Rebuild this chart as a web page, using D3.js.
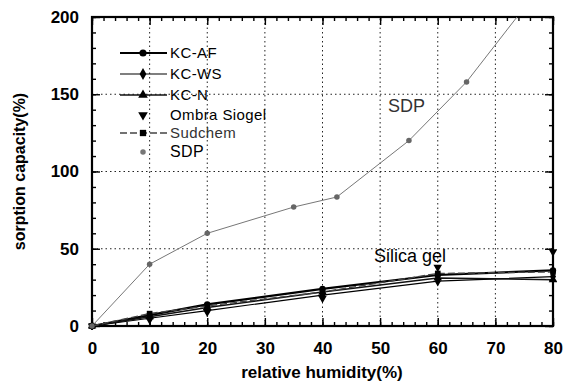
<!DOCTYPE html>
<html>
<head>
<meta charset="utf-8">
<script src="https://cdn.jsdelivr.net/npm/d3@7"></script>
<style>
  body { margin: 0; background: #fff; }
  svg { display: block; font-family: "Liberation Sans", Arial, sans-serif; }
</style>
</head>
<body>
<div id="chart"></div>
<script>
// relative humidity (%) sample points
const rhSilica = [0, 10, 20, 40, 60, 80];
const kcAF = [0, 7, 14, 24, 33, 36];
const kcWS = [0, 5, 10, 20, 29, 32];
const kcN = [0, 6, 12, 22, 31, 30];
const ombra = [0, 4, 9, 18, 38, 48];
const sudchem = [0, 8, 13, 22, 34, 35];

const rhSDP = [0, 10, 20, 35, 42.5, 55, 65, 75];
const sdp = [0, 40, 60, 77, 83.5, 120, 158, 206];

const xTicks = [0, 10, 20, 30, 40, 50, 60, 70, 80];
const yTicks = [0, 50, 100, 150, 200];

const width = 575, height = 386;
const margin = { top: 17, right: 22, bottom: 60, left: 92 };

const svg = d3.select("#chart").append("svg")
  .attr("width", width)
  .attr("height", height);

const x = d3.scaleLinear().domain([0, 80]).range([margin.left, width - margin.right]);
const y = d3.scaleLinear().domain([0, 200]).range([height - margin.bottom, margin.top]);

// dotted grid
svg.append("g")
  .selectAll("line")
  .data(xTicks.slice(1, -1))
  .join("line")
  .attr("x1", d => x(d)).attr("x2", d => x(d))
  .attr("y1", y(0)).attr("y2", y(200))
  .attr("stroke", "#222").attr("stroke-width", 1)
  .attr("stroke-dasharray", "1.5,3");
svg.append("g")
  .selectAll("line")
  .data(yTicks.slice(1, -1))
  .join("line")
  .attr("x1", x(0)).attr("x2", x(80))
  .attr("y1", d => y(d)).attr("y2", d => y(d))
  .attr("stroke", "#222").attr("stroke-width", 1)
  .attr("stroke-dasharray", "1.5,3");

// axes with inward ticks
const xMinor = d3.range(0, 81, 2);
const yMinor = d3.range(0, 201, 10);

function tickAxis(axis, scale, minor, pos) {
  const g = svg.append("g").attr("transform", pos);
  g.call(axis(scale).tickValues(minor).tickSize(-4).tickFormat(""));
  g.select(".domain").remove();
  g.selectAll("line").attr("stroke", "#000").attr("stroke-width", 1.2);
  return g;
}
tickAxis(d3.axisBottom, x, xMinor, `translate(0,${y(0)})`);
tickAxis(d3.axisTop, x, xMinor, `translate(0,${y(200)})`);
tickAxis(d3.axisLeft, y, yMinor, `translate(${x(0)},0)`);
tickAxis(d3.axisRight, y, yMinor, `translate(${x(80)},0)`);

const gx = svg.append("g").attr("transform", `translate(0,${y(0)})`)
  .call(d3.axisBottom(x).tickValues(xTicks).tickSize(-8).tickPadding(16));
const gy = svg.append("g").attr("transform", `translate(${x(0)},0)`)
  .call(d3.axisLeft(y).tickValues(yTicks).tickSize(-8).tickPadding(13));
svg.append("g").attr("transform", `translate(0,${y(200)})`)
  .call(d3.axisTop(x).tickValues(xTicks).tickSize(-8).tickFormat(""))
  .select(".domain").remove();
svg.append("g").attr("transform", `translate(${x(80)},0)`)
  .call(d3.axisRight(y).tickValues(yTicks).tickSize(-8).tickFormat(""))
  .select(".domain").remove();
[gx, gy].forEach(g => {
  g.select(".domain").remove();
  g.selectAll("text").attr("font-size", 17).attr("font-weight", "bold").attr("fill", "#000");
});
svg.selectAll(".tick line").attr("stroke", "#000").attr("stroke-width", 1.4);

// frame
svg.append("rect")
  .attr("x", x(0)).attr("y", y(200))
  .attr("width", x(80) - x(0)).attr("height", y(0) - y(200))
  .attr("fill", "none").attr("stroke", "#000").attr("stroke-width", 2.2);

// series
svg.append("clipPath").attr("id", "plotclip")
  .append("rect")
  .attr("x", x(0) - 4).attr("y", y(200))
  .attr("width", x(80) - x(0) + 8).attr("height", y(0) - y(200) + 4);

const series = [
  { name: "KC-AF", rh: rhSilica, v: kcAF, color: "#000", width: 2.2, dash: null, marker: "circle", line: true },
  { name: "KC-WS", rh: rhSilica, v: kcWS, color: "#000", width: 1.2, dash: null, marker: "diamond", line: true },
  { name: "KC-N", rh: rhSilica, v: kcN, color: "#111", width: 1.5, dash: null, marker: "triangle", line: true },
  { name: "Ombra Siogel", rh: rhSilica, v: ombra, color: "#000", width: 1.2, dash: "6,3", marker: "triangleDown", line: false },
  { name: "Sudchem", rh: rhSilica, v: sudchem, color: "#444", width: 1.4, dash: "7,3", marker: "square", line: true },
  { name: "SDP", rh: rhSDP, v: sdp, color: "#777", width: 1, dash: null, marker: "circle", line: true }
];

const symbols = {
  circle: d3.symbolCircle,
  diamond: d3.symbolDiamond,
  triangle: d3.symbolTriangle,
  triangleDown: d3.symbolTriangle,
  square: d3.symbolSquare
};

function drawMarker(g, type, size, color) {
  const p = g.append("path")
    .attr("d", d3.symbol(symbols[type], size)())
    .attr("fill", color);
  if (type === "triangleDown") p.attr("transform", "rotate(180)");
  return p;
}

const plot = svg.append("g").attr("clip-path", "url(#plotclip)");
const line = d3.line().x(d => x(d[0])).y(d => y(d[1]));

series.forEach(s => {
  const pts = s.rh.map((r, i) => [r, s.v[i]]);
  if (s.line) {
    plot.append("path")
      .datum(pts)
      .attr("d", line)
      .attr("fill", "none")
      .attr("stroke", s.color)
      .attr("stroke-width", s.width)
      .attr("stroke-dasharray", s.dash);
  }
  pts.filter(p => p[1] <= 200).forEach(p => {
    const g = plot.append("g").attr("transform", `translate(${x(p[0])},${y(p[1])})`);
    drawMarker(g, s.marker, s.name === "SDP" ? 24 : 32, s.name === "SDP" ? "#666" : "#000");
  });
});

// legend
const legend = svg.append("g").attr("transform", "translate(120,53)");
const rowY = [0, 21, 42, 62, 80, 99];
series.forEach((s, i) => {
  const row = legend.append("g").attr("transform", `translate(0,${rowY[i]})`);
  if (s.line && s.name !== "SDP") {
    row.append("line")
      .attr("x1", 0).attr("x2", 47)
      .attr("stroke", s.color)
      .attr("stroke-width", s.width)
      .attr("stroke-dasharray", s.dash);
  }
  const m = row.append("g").attr("transform", "translate(23,0)");
  drawMarker(m, s.marker, s.name === "SDP" ? 24 : 40, s.name === "SDP" ? "#777" : "#000");
  row.append("text")
    .attr("x", 50).attr("y", 5)
    .attr("font-size", s.name === "SDP" ? 16 : 15)
    .attr("letter-spacing", 0.4)
    .attr("fill", s.name === "Sudchem" ? "#333" : "#000")
    .text(s.name);
});

// annotations
svg.append("text").attr("x", 388).attr("y", 112)
  .attr("font-size", 18).attr("fill", "#333").text("SDP");
svg.append("text").attr("x", 374).attr("y", 262)
  .attr("font-size", 18).attr("fill", "#000").text("Silica gel");

// axis titles
svg.append("text")
  .attr("x", 322).attr("y", 378)
  .attr("text-anchor", "middle")
  .attr("font-size", 17).attr("font-weight", "bold")
  .text("relative humidity(%)");
svg.append("text")
  .attr("transform", `translate(25,${(y(0) + y(200)) / 2}) rotate(-90)`)
  .attr("text-anchor", "middle")
  .attr("font-size", 16).attr("font-weight", "bold")
  .text("sorption capacity(%)");
</script>
</body>
</html>
